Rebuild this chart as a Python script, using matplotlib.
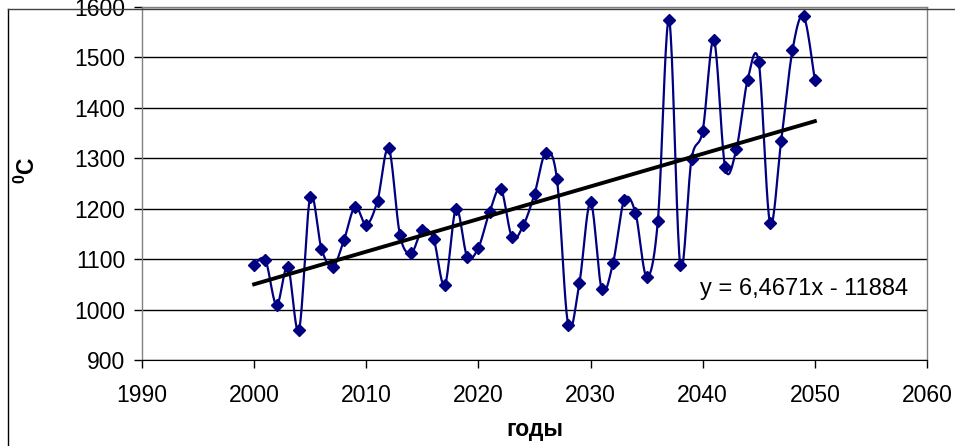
import matplotlib
matplotlib.use('Agg')
import matplotlib.pyplot as plt
from matplotlib.lines import Line2D
import numpy as np

plt.rcParams['font.family'] = ['Liberation Sans', 'DejaVu Sans']
plt.rcParams['mathtext.fontset'] = 'custom'
plt.rcParams['mathtext.rm'] = 'Liberation Sans'
plt.rcParams['mathtext.bf'] = 'Liberation Sans:bold'

# годы и значения
years = list(range(2000, 2051))
values = [1089, 1098, 1009, 1085, 960, 1224, 1121, 1084, 1137, 1204,
          1168, 1216, 1320, 1148, 1112, 1158, 1140, 1048, 1200, 1105,
          1123, 1194, 1239, 1143, 1167, 1229, 1311, 1259, 970, 1052,
          1213, 1040, 1092, 1217, 1192, 1065, 1176, 1574, 1088, 1298,
          1355, 1534, 1282, 1318, 1455, 1490, 1172, 1335, 1514, 1582,
          1455]

# линейный тренд
slope = 6.4671
intercept = -11884
trend_label = 'y = 6,4671x - 11884'

xticks = [1990, 2000, 2010, 2020, 2030, 2040, 2050, 2060]
yticks = [900, 1000, 1100, 1200, 1300, 1400, 1500, 1600]


def smooth(x, y, n=20):
    # сглаживание как в Excel (Catmull-Rom)
    x = np.asarray(x, float)
    y = np.asarray(y, float)
    px = np.concatenate([[x[0]], x, [x[-1]]])
    py = np.concatenate([[y[0]], y, [y[-1]]])
    xs, ys = [], []
    t = np.linspace(0, 1, n, endpoint=False)
    for i in range(1, len(px) - 2):
        p0x, p1x, p2x, p3x = px[i - 1], px[i], px[i + 1], px[i + 2]
        p0y, p1y, p2y, p3y = py[i - 1], py[i], py[i + 1], py[i + 2]
        c1x = p1x + (p2x - p0x) / 6
        c1y = p1y + (p2y - p0y) / 6
        c2x = p2x - (p3x - p1x) / 6
        c2y = p2y - (p3y - p1y) / 6
        b0 = (1 - t) ** 3
        b1 = 3 * (1 - t) ** 2 * t
        b2 = 3 * (1 - t) * t ** 2
        b3 = t ** 3
        xs.extend(b0 * p1x + b1 * c1x + b2 * c2x + b3 * p2x)
        ys.extend(b0 * p1y + b1 * c1y + b2 * c2y + b3 * p2y)
    xs.append(x[-1])
    ys.append(y[-1])
    return xs, ys


fig = plt.figure(figsize=(9.55, 4.46), dpi=100)
ax = fig.add_axes([142 / 955, 86 / 446, (927 - 142) / 955, (439 - 86) / 446])

for yv in yticks:
    ax.axhline(yv, color='black', lw=1.0, zorder=1)

sx, sy = smooth(years, values)
ax.plot(sx, sy, color='#000080', lw=1.6, zorder=2)
ax.plot(years, values, 'D', color='#000080', ms=6.5, zorder=3)

tx = np.array([years[0], years[-1]])
ax.plot(tx, slope * tx + intercept, color='black', lw=2.8, zorder=4)

ax.text(2039.8, 1041, trend_label, fontsize=17, va='center', ha='left')

ax.set_xlim(1990, 2060)
ax.set_ylim(900, 1600)
ax.set_xticks(xticks)
ax.set_yticks(yticks)
ax.tick_params(axis='both', labelsize=16.5, direction='out', length=6, width=1, color='black')
ax.tick_params(axis='x', pad=11)
ax.tick_params(axis='y', pad=6)

for s in ['left', 'right', 'top']:
    ax.spines[s].set_color('#808080')
    ax.spines[s].set_linewidth(1)
ax.spines['bottom'].set_color('black')

ax.set_xlabel('годы', fontsize=16.5, fontweight='bold', labelpad=8)
fig.text(27 / 955, 1 - 170 / 446, r'$^{\mathbf{0}}$C', fontsize=16.5, fontweight='bold',
         rotation=90, ha='center', va='center')

# рамка диаграммы
fig.add_artist(Line2D([7.5 / 955, 7.5 / 955], [0, 1 - 9 / 446], color='black', lw=1))
fig.add_artist(Line2D([7.5 / 955, 1], [1 - 9 / 446, 1 - 9 / 446], color='#404040', lw=1))

fig.savefig('out.png', dpi=100)
